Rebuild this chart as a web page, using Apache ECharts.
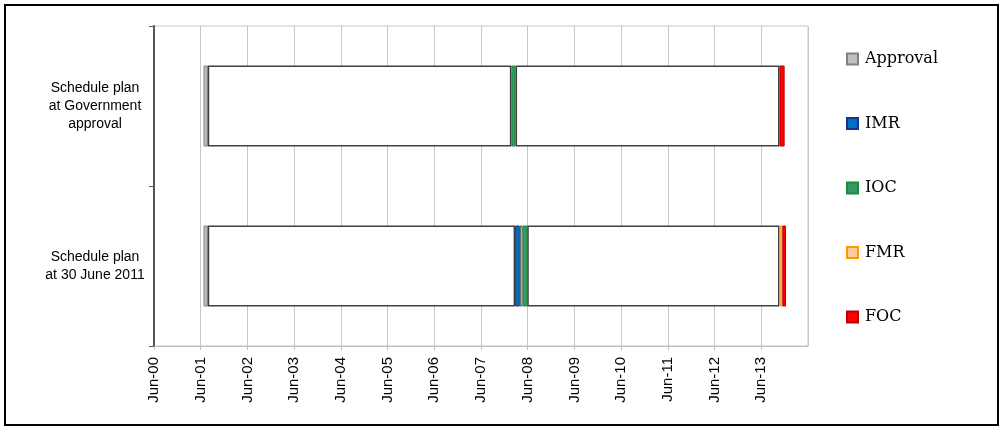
<!DOCTYPE html>
<html>
<head>
<meta charset="utf-8">
<script src="https://cdn.jsdelivr.net/npm/echarts@6/dist/echarts.min.js"></script>
<style>
html,body{margin:0;padding:0;background:#fff;}
#chart{width:1004px;height:430px;}
</style>
</head>
<body>
<div id="chart"></div>
<script>
// Categories (top to bottom)
const categories = ["Schedule plan\nat Government\napproval", "Schedule plan\nat 30 June 2011"];
// Tick labels (years since Jun-2000)
const tickLabels = ["Jun-00","Jun-01","Jun-02","Jun-03","Jun-04","Jun-05","Jun-06","Jun-07","Jun-08","Jun-09","Jun-10","Jun-11","Jun-12","Jun-13"];
// Segment durations in years (stacked), per category
const offset   = [1.06, 1.06];
const approval = [0.09, 0.09];
const gap1     = [6.50, 6.58];
const imr      = [null, 0.10];
const gap2     = [null, 0.06];
const ioc      = [0.09, 0.10];
const gap3     = [5.65, 5.40];
const fmr      = [null, 0.06];
const foc      = [0.11, 0.08];

const chart = echarts.init(document.getElementById('chart'));

function seg(name, data, fill, border, bw) {
  return {
    name: name, type: 'bar', stack: 'plan', data: data,
    barWidth: 81, silent: true,
    itemStyle: { color: fill, borderColor: border, borderWidth: bw }
  };
}

chart.setOption({
  animation: false,
  backgroundColor: '#fff',
  graphic: [{
    type: 'rect', shape: { x: 5, y: 5, width: 993, height: 420 },
    style: { fill: 'none', stroke: '#000', lineWidth: 2 }, silent: true
  }],
  grid: { left: 154, top: 26, right: 196, bottom: 84, show: true, borderColor: '#c8c8c8', borderWidth: 1 },
  legend: {
    orient: 'vertical', left: 841, top: 45,
    data: ['Approval', 'IMR', 'IOC', 'FMR', 'FOC'],
    icon: 'rect', itemWidth: 11, itemHeight: 11, itemGap: 46.5,
    textStyle: { fontFamily: 'DejaVu Serif', fontSize: 16, color: '#000', lineHeight: 18, padding: [0, 0, 0, 2] }
  },
  xAxis: {
    type: 'value', min: 0, max: 14, interval: 1,
    axisLine: { show: true, lineStyle: { color: '#bdbdbd', width: 1 } },
    axisTick: { show: true, length: 4, lineStyle: { color: '#bdbdbd' } },
    splitLine: { show: true, lineStyle: { color: '#c8c8c8', width: 1 } },
    axisLabel: {
      rotate: 90, margin: 11, showMaxLabel: false,
      fontFamily: 'Liberation Sans, Arial', fontSize: 15, color: '#000',
      formatter: function (v) { return tickLabels[Math.round(v)] || ''; }
    }
  },
  yAxis: {
    type: 'category', inverse: true, data: categories,
    axisLine: { show: true, lineStyle: { color: '#555', width: 2 } },
    axisTick: { show: true, length: 5, lineStyle: { color: '#555', width: 1 } },
    splitLine: { show: false },
    axisLabel: {
      align: 'center', margin: 59, lineHeight: 18,
      fontFamily: 'Liberation Sans, Arial', fontSize: 14, color: '#000'
    }
  },
  series: [
    seg('offset', offset, 'rgba(0,0,0,0)', 'rgba(0,0,0,0)', 0),
    seg('Approval', approval, '#c0c0c0', '#808080', 1),
    seg('gap1', gap1, '#ffffff', '#404040', 1.5),
    seg('IMR', imr, '#0070c0', '#1f2f8f', 1),
    seg('gap2', gap2, '#ffffff', '#404040', 1),
    seg('IOC', ioc, '#339966', '#1e8a3a', 1),
    seg('gap3', gap3, '#ffffff', '#404040', 1.5),
    seg('FMR', fmr, '#ffcc99', '#ff9900', 1),
    seg('FOC', foc, '#ff0000', '#c00000', 1)
  ]
});
</script>
</body>
</html>
